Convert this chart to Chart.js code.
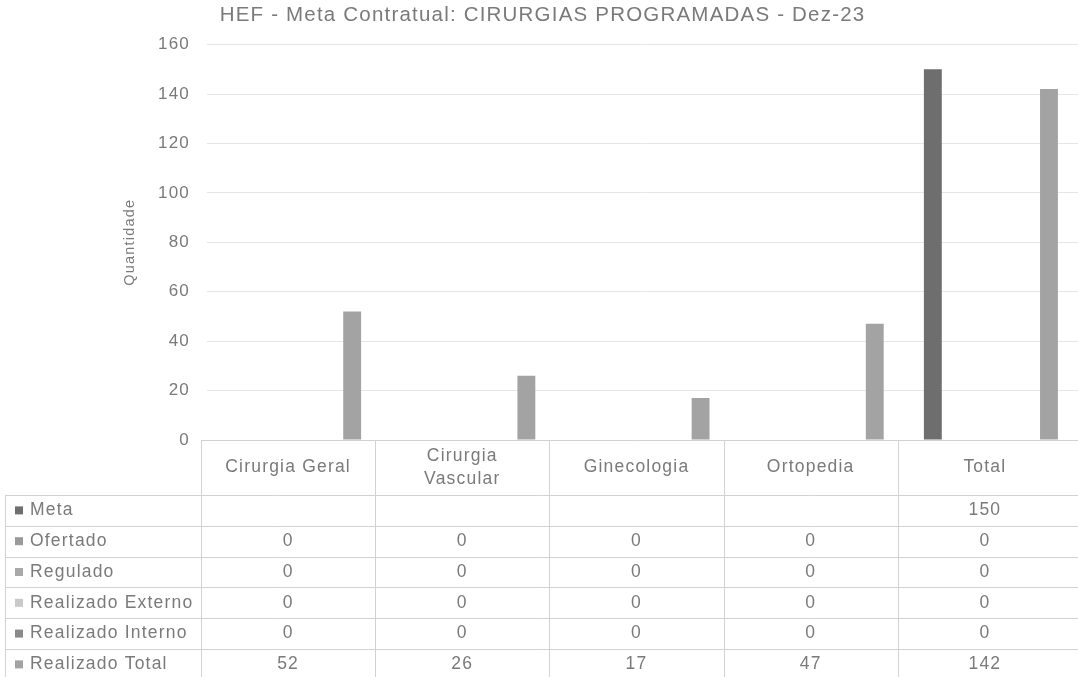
<!DOCTYPE html>
<html>
<head>
<meta charset="utf-8">
<script src="https://cdn.jsdelivr.net/npm/chart.js@4"></script>
<style>
  html, body { margin: 0; padding: 0; background: #fff; }
  #wrap { width: 1078px; height: 677px; position: relative; overflow: hidden; }
</style>
</head>
<body>
<div id="wrap"><canvas id="myChart" width="1078" height="677"></canvas></div>
<script>
// dados
const categorias = ['Cirurgia Geral', ['Cirurgia', 'Vascular'], 'Ginecologia', 'Ortopedia', 'Total'];
const series = ['Meta', 'Ofertado', 'Regulado', 'Realizado Externo', 'Realizado Interno', 'Realizado Total'];
const meta = [null, null, null, null, 150];
const ofertado = [0, 0, 0, 0, 0];
const regulado = [0, 0, 0, 0, 0];
const realizadoExterno = [0, 0, 0, 0, 0];
const realizadoInterno = [0, 0, 0, 0, 0];
const realizadoTotal = [52, 26, 17, 47, 142];
const ticksY = [0, 20, 40, 60, 80, 100, 120, 140, 160];

const cores = ['#6e6e6e', '#9a9a9a', '#a9a9a9', '#c9c9c9', '#8a8a8a', '#a3a3a3'];
const valores = [meta, ofertado, regulado, realizadoExterno, realizadoInterno, realizadoTotal];

const corTexto = '#7a7a7a';
const fonte = '"Liberation Sans", Arial, sans-serif';
const desloc = 6; // no Excel as barras ficam um pouco a direita da coluna da tabela

// espacamento das letras (o texto original e mais largo)
const espacoPlugin = {
  id: 'espaco',
  beforeDraw(chart) { chart.ctx.letterSpacing = '1.2px'; }
};

// tabela de dados desenhada embaixo do grafico
const tabelaPlugin = {
  id: 'tabela',
  afterDraw(chart) {
    const ctx = chart.ctx;
    const area = chart.chartArea;
    const n = categorias.length;
    const colW = (area.right - area.left) / n;
    const esqTab = area.left - desloc;
    const dirTab = 1078;
    const topo = area.bottom;
    const cab = 55;
    const linhaH = 30.8;
    const esq = 5;
    const fim = topo + cab + series.length * linhaH;
    const centro = (i) => esqTab + (i + 0.5) * colW;

    ctx.save();
    ctx.strokeStyle = '#d2d2d2';
    ctx.lineWidth = 1;

    // linha do eixo / topo do cabecalho
    ctx.beginPath();
    ctx.moveTo(esqTab, topo + 0.5);
    ctx.lineTo(dirTab, topo + 0.5);
    ctx.stroke();

    // linhas horizontais das series
    for (let r = 0; r <= series.length; r++) {
      const y = Math.round(topo + cab + r * linhaH) + 0.5;
      ctx.beginPath();
      ctx.moveTo(esq, y);
      ctx.lineTo(dirTab, y);
      ctx.stroke();
    }

    // linhas verticais
    for (let i = 0; i < n; i++) {
      const xv = Math.round(esqTab + i * colW) + 0.5;
      ctx.beginPath();
      ctx.moveTo(xv, topo);
      ctx.lineTo(xv, fim);
      ctx.stroke();
    }
    ctx.beginPath();
    ctx.moveTo(esq + 0.5, topo + cab);
    ctx.lineTo(esq + 0.5, fim);
    ctx.stroke();

    ctx.fillStyle = corTexto;
    ctx.font = '17.5px ' + fonte;
    ctx.letterSpacing = '1.2px';
    ctx.textBaseline = 'middle';

    // cabecalho
    ctx.textAlign = 'center';
    categorias.forEach((c, i) => {
      const linhas = Array.isArray(c) ? c : [c];
      const meio = topo + cab / 2;
      linhas.forEach((l, k) => {
        ctx.fillText(l, centro(i), meio + (k - (linhas.length - 1) / 2) * 23);
      });
    });

    // linhas da tabela
    series.forEach((s, r) => {
      const cy = topo + cab + r * linhaH + linhaH / 2;
      ctx.fillStyle = cores[r];
      ctx.fillRect(esq + 10, cy - 4, 8, 8);
      ctx.fillStyle = corTexto;
      ctx.textAlign = 'left';
      ctx.fillText(s, esq + 25, cy);
      ctx.textAlign = 'center';
      valores[r].forEach((v, i) => {
        if (v === null) return;
        ctx.fillText(String(v), centro(i), cy);
      });
    });
    ctx.restore();
  }
};

const ctx = document.getElementById('myChart').getContext('2d');
const myChart = new Chart(ctx, {
  type: 'bar',
  data: {
    labels: categorias,
    datasets: series.map((s, i) => ({
      label: s,
      data: valores[i],
      backgroundColor: cores[i],
      borderWidth: 0
    }))
  },
  options: {
    responsive: false,
    animation: false,
    layout: { padding: { left: 0, right: -7, top: 0, bottom: 237 } },
    datasets: { bar: { categoryPercentage: 0.8, barPercentage: 0.77 } },
    plugins: {
      legend: { display: false },
      tooltip: { enabled: false },
      title: {
        display: true,
        text: 'HEF - Meta Contratual: CIRURGIAS PROGRAMADAS - Dez-23',
        color: corTexto,
        font: { family: fonte, size: 20.5, weight: 'normal' },
        padding: { top: 3, bottom: 17 }
      }
    },
    scales: {
      x: {
        ticks: { display: false },
        grid: { display: false },
        border: { display: false },
        afterFit: (scale) => { scale.height = 0; }
      },
      y: {
        min: 0,
        max: 160,
        afterBuildTicks: (scale) => { scale.ticks = ticksY.map(v => ({ value: v })); },
        afterFit: (scale) => { scale.width = 207; },
        title: {
          display: true,
          text: 'Quantidade',
          color: corTexto,
          font: { family: fonte, size: 14.5 },
          padding: { top: 121, bottom: 0 }
        },
        ticks: {
          color: corTexto,
          padding: 17,
          font: { family: fonte, size: 17 }
        },
        grid: { color: '#e6e6e6', drawTicks: false },
        border: { display: false }
      }
    }
  },
  plugins: [espacoPlugin, tabelaPlugin]
});
</script>
</body>
</html>
